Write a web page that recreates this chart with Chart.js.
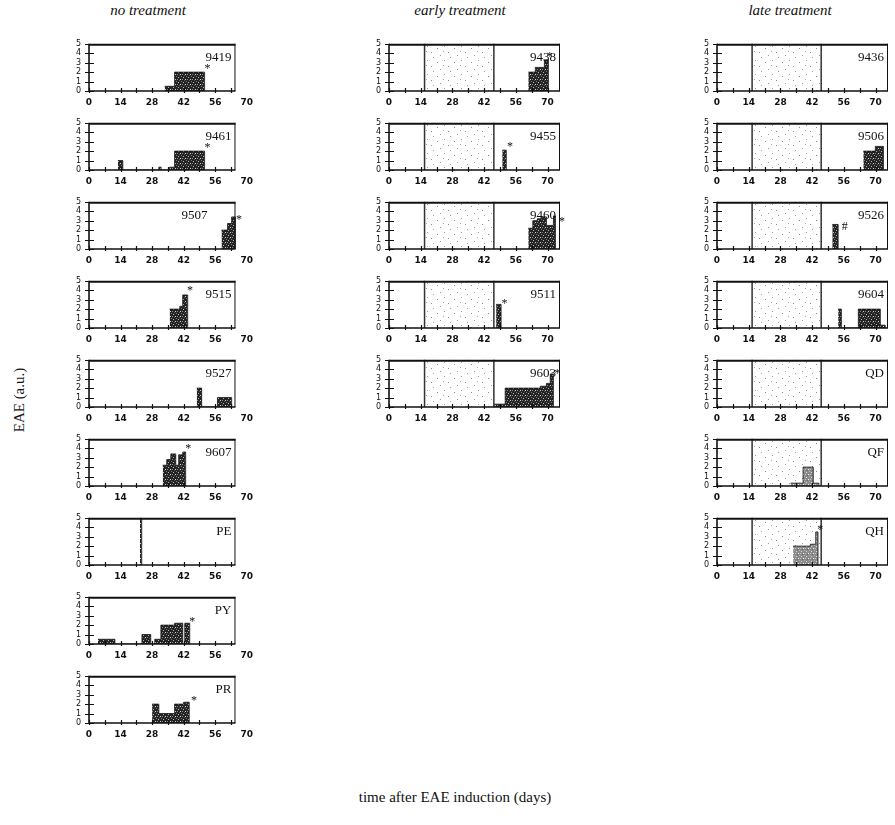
<!DOCTYPE html>
<html>
<head>
<meta charset="utf-8">
<script src="https://cdn.jsdelivr.net/npm/chart.js@4/dist/chart.umd.min.js"></script>
<style>
  html, body { margin: 0; padding: 0; background: #fff; }
  #fig { position: relative; width: 895px; height: 825px; overflow: hidden; font-family: "Liberation Serif", "DejaVu Serif", serif; color: #111; }
  #fig canvas { position: absolute; }
  .coltitle { position: absolute; font-style: italic; font-size: 15px; white-space: nowrap; transform: translateX(-50%); }
  .xtitle { position: absolute; font-size: 15px; white-space: nowrap; transform: translateX(-50%); }
  .ytitle { position: absolute; font-size: 15px; white-space: nowrap; transform: translate(-50%, -50%) rotate(-90deg); }
</style>
</head>
<body>
<div id="fig">
  <div class="coltitle" style="left:148px; top:2px;">no treatment</div>
  <div class="coltitle" style="left:460px; top:2px;">early treatment</div>
  <div class="coltitle" style="left:790px; top:2px;">late treatment</div>
  <div class="ytitle" style="left:19px; top:400px;">EAE (a.u.)</div>
  <div class="xtitle" style="left:455px; top:789px;">time after EAE induction (days)</div>
</div>
<script>
// ---- Daily clinical score, written as step breakpoints: from days[i] the score is eae[i] ----
// no treatment
const days9419 = [33.6, 38, 51.3];                 const eae9419 = [0.5, 2, 0];
const days9461 = [12.8, 15, 31, 32, 35.8, 38, 51.3]; const eae9461 = [1, 0, 0.3, 0, 0.3, 2, 0];
const days9507 = [58.8, 61.5, 63.3, 65];           const eae9507 = [2, 2.7, 3.4, 0];
const days9515 = [35.8, 40.3, 41.6, 43.8];         const eae9515 = [2, 2.3, 3.5, 0];
const days9527 = [47.8, 50, 57, 63.3];             const eae9527 = [2, 0, 1, 0];
const days9607 = [32.7, 34.5, 36.3, 38.5, 39.8, 41.6, 42.9]; const eae9607 = [2.2, 2.8, 3.4, 2.2, 3.3, 3.6, 0];
const daysPE   = [22.6, 23.4];                     const eaePE   = [5, 0];
const daysPY   = [4, 11.5, 23.5, 27.4, 29.2, 31.9, 38, 41.6, 42.5, 44.7]; const eaePY = [0.5, 0, 1, 0, 0.5, 2, 2.2, 0, 2.2, 0];
const daysPR   = [28, 31, 38, 42, 44.5];           const eaePR   = [2, 1, 2, 2.2, 0];
// early treatment
const days9438 = [61.5, 64.6, 68.6, 70.4];         const eae9438 = [2, 2.5, 3.3, 0];
const days9455 = [50, 51.8];                       const eae9455 = [2.1, 0];
const days9460 = [61.5, 63.5, 65.5, 67.5, 69.5, 72.6, 73.5]; const eae9460 = [2.2, 3, 3.2, 3.4, 2.5, 3.5, 0];
const days9511 = [47.3, 49.5];                     const eae9511 = [2.5, 0];
const days9603 = [46.5, 51.3, 66.8, 69.5, 71.2, 72.6]; const eae9603 = [0.3, 2, 2.2, 2.5, 3.5, 0];
// late treatment
const days9436 = [];                               const eae9436 = [];
const days9506 = [64.6, 69.9, 73.5];               const eae9506 = [2, 2.5, 0];
const days9526 = [50.9, 53.5];                     const eae9526 = [2.6, 0];
const days9604 = [53.5, 54.9, 62.4, 72.1, 74.3];   const eae9604 = [2, 0, 2, 0.3, 0];
const daysQD   = [];                               const eaeQD   = [];
const daysQF   = [32.5, 38, 42.5, 45];             const eaeQF   = [0.3, 2, 0.3, 0];
const daysQH   = [33.6, 41.2, 43.6, 44.6];         const eaeQH   = [2, 2.2, 3.5, 0];

// significance markers [day, score, symbol]
const mark9419 = [52.6, 2.3, '*'];
const mark9461 = [52.6, 2.3, '*'];
const mark9507 = [66.6, 3.1, '*'];
const mark9515 = [44.8, 3.9, '*'];
const mark9607 = [44.0, 3.9, '*'];
const markPY   = [45.8, 2.4, '*'];
const markPR   = [46.6, 2.4, '*'];
const mark9438 = [71.0, 3.6, '*'];
const mark9455 = [53.4, 2.5, '*'];
const mark9460 = [76.4, 2.9, '*'];
const mark9511 = [51.0, 2.6, '*'];
const mark9603 = [74.3, 3.5, '*'];
const mark9526 = [56.4, 2.4, '#'];
const markQH   = [45.6, 3.7, '*'];

// treatment windows (days)
const earlyWindow = [15.7, 46.3];
const lateWindow  = [15.5, 46];

// column contents, top to bottom
const noTreatment    = ['9419', '9461', '9507', '9515', '9527', '9607', 'PE', 'PY', 'PR'];
const earlyTreatment = ['9438', '9455', '9460', '9511', '9603'];
const lateTreatment  = ['9436', '9506', '9526', '9604', 'QD', 'QF', 'QH'];

// axis ticks
const xTickStep = 7, xLabelStep = 14;
const yTicks = [0, 1, 2, 3, 4, 5];

const PANELS = {
  '9419': [days9419, eae9419, mark9419], '9461': [days9461, eae9461, mark9461],
  '9507': [days9507, eae9507, mark9507], '9515': [days9515, eae9515, mark9515],
  '9527': [days9527, eae9527, null],     '9607': [days9607, eae9607, mark9607],
  'PE': [daysPE, eaePE, null], 'PY': [daysPY, eaePY, markPY], 'PR': [daysPR, eaePR, markPR],
  '9438': [days9438, eae9438, mark9438], '9455': [days9455, eae9455, mark9455],
  '9460': [days9460, eae9460, mark9460], '9511': [days9511, eae9511, mark9511],
  '9603': [days9603, eae9603, mark9603],
  '9436': [days9436, eae9436, null], '9506': [days9506, eae9506, null],
  '9526': [days9526, eae9526, mark9526], '9604': [days9604, eae9604, null],
  'QD': [daysQD, eaeQD, null], 'QF': [daysQF, eaeQF, null], 'QH': [daysQH, eaeQH, markQH]
};
const LIGHT_BARS = new Set(['QF', 'QH']);

// ---- layout ----
const COL_X = [89, 389, 717];
const COL_XMAX = [70, 75.5, 75.5];   // axis range per column (days)
const COL_FRAME = [65, null, null];  // where the panel box closes (null = end of axis)
const PX_PER_DAY = 2.26;
const ROW0 = 37, ROW_STEP = 79;
const PLOT_H = 54;
const AX_W = 22, PAD_T = 6, PAD_R = 12, AX_H = 22;
const LABEL_SHIFT = { '9507': -24 };  // id label moved clear of the bars

// ---- fill textures ----
function tile(w, h, base, specks) {
  const c = document.createElement('canvas');
  c.width = w; c.height = h;
  const g = c.getContext('2d');
  if (base) { g.fillStyle = base; g.fillRect(0, 0, w, h); }
  for (const [x, y, col] of specks) { g.fillStyle = col; g.fillRect(x, y, 1, 1); }
  return g.createPattern(c, 'repeat');
}
const darkFill = tile(5, 5, '#232323', [[1, 1, '#b5b5b5'], [3, 3, '#d0d0d0'], [4, 0, '#777'], [0, 3, '#8a8a8a'], [2, 4, '#555']]);
const lightFill = tile(5, 5, '#8a8a8a', [[1, 1, '#dcdcdc'], [3, 3, '#f0f0f0'], [4, 0, '#b0b0b0'], [0, 3, '#c4c4c4'], [2, 4, '#666']]);
const shadeFill = tile(17, 14, null, [[2, 3, '#8a8a8a'], [9, 1, '#999'], [13, 7, '#8a8a8a'], [5, 10, '#9a9a9a'], [15, 12, '#a0a0a0'], [8, 6, '#a5a5a5']]);

// ---- per-panel drawing: treatment window, frame, crossing ticks, id label, marker ----
const panelDecor = {
  id: 'panelDecor',
  beforeDatasetsDraw(chart, args, opts) {
    if (!opts.window) return;
    const { ctx, chartArea: a, scales: { x } } = chart;
    const x0 = x.getPixelForValue(opts.window[0]), x1 = x.getPixelForValue(opts.window[1]);
    ctx.save();
    ctx.fillStyle = shadeFill;
    ctx.fillRect(x0, a.top, x1 - x0, a.bottom - a.top);
    ctx.strokeStyle = '#333';
    ctx.lineWidth = 1.5;
    ctx.beginPath();
    ctx.moveTo(x0, a.top); ctx.lineTo(x0, a.bottom);
    ctx.moveTo(x1, a.top); ctx.lineTo(x1, a.bottom);
    ctx.stroke();
    ctx.restore();
  },
  afterDraw(chart, args, opts) {
    const { ctx, chartArea: a, scales: { x, y } } = chart;
    const right = opts.frame == null ? a.right : x.getPixelForValue(opts.frame);
    ctx.save();
    ctx.strokeStyle = '#111';
    // frame
    ctx.lineWidth = 1;
    ctx.beginPath();
    ctx.moveTo(right - 0.5, a.top); ctx.lineTo(right - 0.5, a.bottom);
    ctx.stroke();
    ctx.lineWidth = 2;
    ctx.beginPath(); ctx.moveTo(a.left, a.top + 1); ctx.lineTo(right, a.top + 1); ctx.stroke();
    ctx.lineWidth = 1.6;
    ctx.beginPath();
    ctx.moveTo(a.left, a.top); ctx.lineTo(a.left, a.bottom);
    ctx.moveTo(a.left, a.bottom); ctx.lineTo(right, a.bottom);
    ctx.stroke();
    // ticks crossing the axes
    ctx.lineWidth = 1.2;
    ctx.beginPath();
    for (const t of x.ticks) {
      const px = Math.round(x.getPixelForValue(t.value)) + 0.5;
      if (px > right) continue;
      ctx.moveTo(px, a.bottom - 3); ctx.lineTo(px, a.bottom + 2);
    }
    for (const t of y.ticks) {
      const py = Math.round(y.getPixelForValue(t.value)) + 0.5;
      ctx.moveTo(a.left - 4, py); ctx.lineTo(a.left + 5, py);
    }
    ctx.stroke();
    // panel id
    ctx.fillStyle = '#111';
    ctx.font = '13px "Liberation Serif", serif';
    ctx.textAlign = 'right';
    ctx.textBaseline = 'alphabetic';
    ctx.fillText(opts.label, right - 4 + (LABEL_SHIFT[opts.label] || 0), a.top + 17);
    // marker next to the last bar
    if (opts.mark) {
      ctx.font = '12px "Liberation Serif", serif';
      ctx.textAlign = 'center';
      ctx.textBaseline = 'middle';
      ctx.fillText(opts.mark[2], x.getPixelForValue(opts.mark[0]), y.getPixelForValue(opts.mark[1]));
    }
    ctx.restore();
  }
};

const fig = document.getElementById('fig');

function addPanel(col, row, name, window) {
  const [days, eae, mark] = PANELS[name];
  const xMax = COL_XMAX[col];
  const plotW = Math.round(xMax * PX_PER_DAY);
  const L = COL_X[col], T = ROW0 + ROW_STEP * row;
  const w = AX_W + plotW + PAD_R, h = PAD_T + PLOT_H + AX_H;
  const cv = document.createElement('canvas');
  cv.width = w; cv.height = h;
  cv.style.left = (L - AX_W) + 'px';
  cv.style.top = Math.round(T - PAD_T) + 'px';
  fig.appendChild(cv);
  const points = days.map((d, i) => ({ x: d, y: eae[i] }));
  new Chart(cv, {
    type: 'line',
    data: {
      datasets: [{
        data: points,
        stepped: 'before',
        fill: 'origin',
        backgroundColor: LIGHT_BARS.has(name) ? lightFill : darkFill,
        borderColor: '#111',
        borderWidth: 0.8,
        pointRadius: 0
      }]
    },
    options: {
      responsive: false,
      animation: false,
      events: [],
      layout: { padding: { left: 0, top: PAD_T, right: PAD_R, bottom: 0 } },
      plugins: {
        legend: { display: false },
        tooltip: { enabled: false },
        panelDecor: { label: name, mark: mark, window: window, frame: COL_FRAME[col] }
      },
      scales: {
        x: {
          type: 'linear', min: 0, max: xMax,
          afterFit(s) { s.height = AX_H; },
          grid: { display: false, drawTicks: false },
          border: { display: false },
          ticks: {
            stepSize: xTickStep, autoSkip: false, includeBounds: false, maxRotation: 0, padding: 6,
            color: '#111', font: { family: '"DejaVu Sans", sans-serif', size: 9, weight: 'bold' },
            callback: v => (v % xLabelStep === 0 ? String(v) : '')
          }
        },
        y: {
          type: 'linear', min: yTicks[0], max: yTicks[yTicks.length - 1],
          afterFit(s) { s.width = AX_W; },
          grid: { display: false, drawTicks: false },
          border: { display: false },
          ticks: {
            stepSize: 1, autoSkip: false, padding: 8, color: '#111',
            font: { family: '"DejaVu Sans", sans-serif', size: 8 }
          }
        }
      }
    },
    plugins: [panelDecor]
  });
}

noTreatment.forEach((n, i) => addPanel(0, i, n, null));
earlyTreatment.forEach((n, i) => addPanel(1, i, n, earlyWindow));
lateTreatment.forEach((n, i) => addPanel(2, i, n, lateWindow));
</script>
</body>
</html>
